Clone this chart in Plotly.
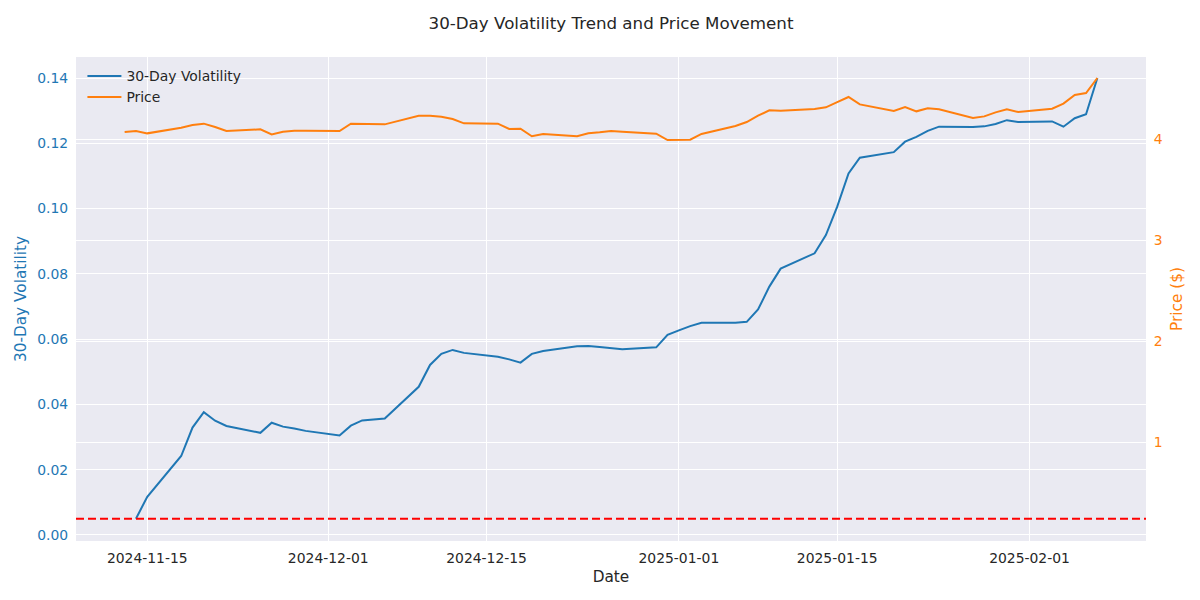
import plotly.graph_objects as go

dates = [
    "2024-11-13", "2024-11-14", "2024-11-15", "2024-11-18", "2024-11-19", "2024-11-20",
    "2024-11-21", "2024-11-22", "2024-11-25", "2024-11-26", "2024-11-27", "2024-11-28",
    "2024-11-29", "2024-12-02", "2024-12-03", "2024-12-04", "2024-12-05", "2024-12-06",
    "2024-12-09", "2024-12-10", "2024-12-11", "2024-12-12", "2024-12-13", "2024-12-16",
    "2024-12-17", "2024-12-18", "2024-12-19", "2024-12-20", "2024-12-23", "2024-12-24",
    "2024-12-25", "2024-12-26", "2024-12-27", "2024-12-30", "2024-12-31", "2025-01-01",
    "2025-01-02", "2025-01-03", "2025-01-06", "2025-01-07", "2025-01-08", "2025-01-09",
    "2025-01-10", "2025-01-13", "2025-01-14", "2025-01-15", "2025-01-16", "2025-01-17",
    "2025-01-20", "2025-01-21", "2025-01-22", "2025-01-23", "2025-01-24", "2025-01-27",
    "2025-01-28", "2025-01-29", "2025-01-30", "2025-01-31", "2025-02-03", "2025-02-04",
    "2025-02-05", "2025-02-06", "2025-02-07",
]

volatility = [
    None, 0.0050, 0.0117, 0.0242, 0.0329, 0.0376,
    0.0350, 0.0334, 0.0313, 0.0344, 0.0332, 0.0326,
    0.0319, 0.0305, 0.0335, 0.0351, 0.0354, 0.0357,
    0.0454, 0.0521, 0.0555, 0.0567, 0.0558, 0.0546,
    0.0538, 0.0528, 0.0555, 0.0564, 0.0578, 0.0579,
    0.0576, 0.0572, 0.0569, 0.0575, 0.0613, 0.0627,
    0.0640, 0.0650, 0.0650, 0.0653, 0.0691, 0.0761,
    0.0816, 0.0863, 0.0919, 0.1006, 0.1108, 0.1156,
    0.1173, 0.1205, 0.1220, 0.1238, 0.1251, 0.1250,
    0.1252, 0.1259, 0.1271, 0.1265, 0.1267, 0.1251,
    0.1277, 0.1289, 0.1400,
]

price = [
    4.069, 4.079, 4.056, 4.112, 4.139, 4.152,
    4.119, 4.079, 4.096, 4.046, 4.072, 4.082,
    4.082, 4.079, 4.152, 4.149, 4.142, 4.145,
    4.231, 4.231, 4.221, 4.198, 4.155, 4.152,
    4.099, 4.102, 4.027, 4.050, 4.027, 4.056,
    4.066, 4.079, 4.072, 4.053, 3.990, 3.990,
    3.993, 4.050, 4.129, 4.168, 4.231, 4.284,
    4.280, 4.297, 4.314, 4.366, 4.416, 4.343,
    4.277, 4.317, 4.274, 4.304, 4.294, 4.208,
    4.224, 4.264, 4.294, 4.267, 4.300, 4.350,
    4.436, 4.455, 4.604,
]

threshold = 0.005

x_tick_vals = ["2024-11-15", "2024-12-01", "2024-12-15", "2025-01-01", "2025-01-15", "2025-02-01"]
y_tick_vals = [0.00, 0.02, 0.04, 0.06, 0.08, 0.10, 0.12, 0.14]
y2_tick_vals = [1, 2, 3, 4]

BLUE = "#1f77b4"
ORANGE = "#ff7f0e"
TEXT = "#262626"
BG = "#EAEAF2"
FONT = "DejaVu Sans"
FS = 13.9
LFS = 15.3

fig = go.Figure()
fig.add_trace(go.Scatter(
    x=dates, y=volatility, name="30-Day Volatility", mode="lines",
    line=dict(color=BLUE, width=2), connectgaps=False,
))
fig.add_trace(go.Scatter(
    x=dates, y=price, name="Price", mode="lines", yaxis="y2",
    line=dict(color=ORANGE, width=2),
))

fig.add_shape(
    type="line", xref="paper", x0=0, x1=1, yref="y", y0=threshold, y1=threshold,
    line=dict(color="red", width=2, dash="8px,4px"), layer="above",
)

fig.update_layout(
    width=1200, height=600,
    paper_bgcolor="white", plot_bgcolor=BG,
    font=dict(family=FONT, size=FS, color=TEXT),
    margin=dict(l=76, r=54, t=57, b=59),
    title=dict(
        text="30-Day Volatility Trend and Price Movement",
        xref="paper", x=0.5, xanchor="center", y=1 - 23 / 600, yanchor="middle",
        font=dict(family=FONT, size=16.7, color=TEXT),
    ),
    showlegend=True,
    legend=dict(
        x=0.006, y=0.993, xanchor="left", yanchor="top",
        bgcolor="rgba(0,0,0,0)", borderwidth=0,
        font=dict(family=FONT, size=FS, color=TEXT),
        itemwidth=34, tracegroupgap=0,
    ),
    xaxis=dict(
        type="date",
        range=["2024-11-08 16:48", "2025-02-11 07:12"],
        tickvals=x_tick_vals, ticktext=x_tick_vals,
        showgrid=True, gridcolor="white", gridwidth=1.3,
        zeroline=False, showline=False,
        ticks="outside", ticklen=4, tickcolor="rgba(0,0,0,0)",
        tickfont=dict(family=FONT, size=FS, color=TEXT),
        title=dict(text="Date", font=dict(family=FONT, size=LFS, color=TEXT), standoff=6),
    ),
    yaxis=dict(
        range=[-0.00184, 0.14645],
        tickvals=y_tick_vals, tickformat=".2f",
        showgrid=True, gridcolor="white", gridwidth=1.3,
        zeroline=False, showline=False,
        ticks="outside", ticklen=4, tickcolor="rgba(0,0,0,0)",
        tickfont=dict(family=FONT, size=FS, color=BLUE),
        title=dict(text="30-Day Volatility", font=dict(family=FONT, size=LFS, color=BLUE), standoff=6),
    ),
    yaxis2=dict(
        overlaying="y", side="right",
        range=[0.020, 4.812],
        tickvals=y2_tick_vals,
        showgrid=True, gridcolor="white", gridwidth=1.3,
        zeroline=False, showline=False,
        ticks="outside", ticklen=4, tickcolor="rgba(0,0,0,0)",
        tickfont=dict(family=FONT, size=FS, color=ORANGE),
        title=dict(text="Price ($)", font=dict(family=FONT, size=LFS, color=ORANGE), standoff=9),
    ),
)

fig.write_html(
    "out.html",
    config={"displayModeBar": False},
    post_script="document.body.style.margin='0';",
)
